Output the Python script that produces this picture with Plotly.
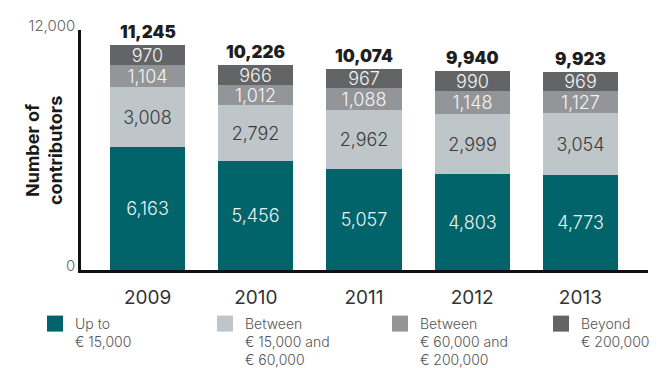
import plotly.graph_objects as go

years = ["2009", "2010", "2011", "2012", "2013"]
up_to_15k = [6163, 5456, 5057, 4803, 4773]
between_15k_60k = [3008, 2792, 2962, 2999, 3054]
between_60k_200k = [1104, 1012, 1088, 1148, 1127]
beyond_200k = [970, 966, 967, 990, 969]

series_names = [
    "Up to<br>€ 15,000",
    "Between<br>€ 15,000 and<br>€ 60,000",
    "Between<br>€ 60,000 and<br>€ 200,000",
    "Beyond<br>€ 200,000",
]
series_values = [up_to_15k, between_15k_60k, between_60k_200k, beyond_200k]
colors = ["#00646A", "#BEC6CA", "#949598", "#636466"]
text_colors = ["#EEF2F2", "#3A3A3A", "#F4F4F4", "#F4F4F4"]

totals = [sum(v) for v in zip(*series_values)]

FONT = "Inter"
W, H = 656, 360

fig = go.Figure()
for name, vals, col, tcol in zip(series_names, series_values, colors, text_colors):
    fig.add_trace(go.Bar(
        x=years, y=vals, name=name, marker=dict(color=col, line=dict(width=0)),
        width=0.695, texttemplate="%{y:,}", textposition="inside",
        insidetextanchor="middle", constraintext="none", textangle=0,
        textfont=dict(family=FONT, size=18, color=tcol, weight=300),
        showlegend=False, hoverinfo="skip",
    ))

total_annotations = [
    dict(x=i, y=tot, text=f"{tot:,}", xref="x", yref="y", showarrow=False,
         xanchor="center", yanchor="middle", yshift=13,
         font=dict(family=FONT, size=17, color="#1E1E1E", weight=900))
    for i, tot in enumerate(totals)
]

legend_x = [27, 197, 372, 533]
for i, (name, col) in enumerate(zip(series_names, colors)):
    lg = "legend" if i == 0 else f"legend{i+1}"
    fig.add_trace(go.Scatter(
        x=[0], y=[0], mode="markers", name=name,
        marker=dict(symbol="square", size=16, color=col),
        legend=lg, showlegend=True, xaxis="x2", yaxis="y2",
        hoverinfo="skip",
    ))

legend_common = dict(
    xref="container", yref="container", yanchor="top", xanchor="left",
    y=(H - 300) / H, valign="top", bgcolor="rgba(0,0,0,0)",
    font=dict(family=FONT, size=14, color="#555555", weight=300),
    tracegroupgap=0,
)
layout_legends = {}
for i, lx in enumerate(legend_x):
    key = "legend" if i == 0 else f"legend{i+1}"
    layout_legends[key] = dict(legend_common, x=lx / W)

fig.update_layout(
    width=W, height=H,
    margin=dict(l=73, r=16, t=22, b=H - 262, autoexpand=False),
    paper_bgcolor="white", plot_bgcolor="white",
    barmode="stack", bargap=0,
    font=dict(family=FONT),
    xaxis=dict(
        type="category", categoryarray=years, categoryorder="array",
        range=[-0.616, 4.625], showgrid=False,
        showline=True, linecolor="#111111", linewidth=2.5,
        ticks="", ticklabelstandoff=8, tickangle=0,
        tickfont=dict(family=FONT, size=19, color="#333333"),
        fixedrange=True,
    ),
    yaxis=dict(
        range=[0, 12000], tickvals=[0, 12000], ticktext=["0", "12,000"],
        showgrid=False, zeroline=False, showline=True, linecolor="#111111",
        linewidth=2.5, ticks="", ticklabelshift=-4,
        tickfont=dict(family=FONT, size=15, color="#666666", weight=300),
        fixedrange=True,
    ),
    xaxis2=dict(visible=False, range=[10, 11], domain=[0, 0.01], anchor="y2"),
    yaxis2=dict(visible=False, range=[10, 11], domain=[0, 0.01], anchor="x2"),
    annotations=[dict(
        text="<b>Number of<br>contributors</b>", textangle=-90,
        xref="paper", yref="paper", x=-0.0653, y=0.5,
        xanchor="center", yanchor="middle", showarrow=False,
        font=dict(family=FONT, size=18, color="#1A1A1A"),
    )] + total_annotations,
    **layout_legends,
)

fig.write_html("out.html")
